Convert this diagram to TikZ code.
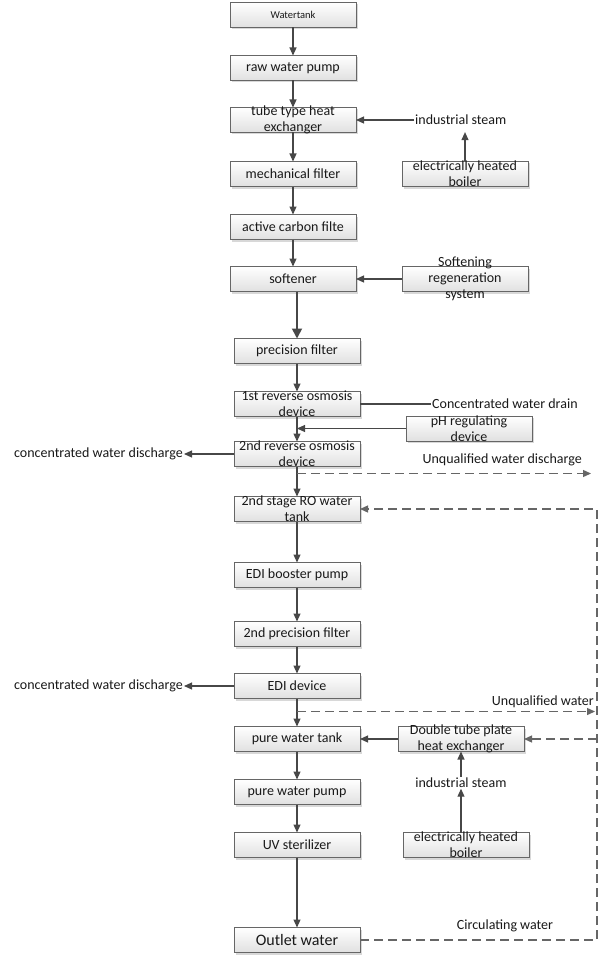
\documentclass[tikz,border=0pt]{standalone}
\usepackage{fontspec}
\setmainfont{Carlito}
\usepackage{tikz}
\usetikzlibrary{positioning,shadows,arrows.meta,calc}
\usepackage{xcolor}

\newcommand{\fsz}[2]{\fontsize{#1}{#2}\selectfont}

\begin{document}
\begin{tikzpicture}[x=1pt,y=1pt,
  node distance=27pt,
  every node/.style={font=\fsz{14}{16},text=black!90,inner sep=1pt,align=center},%
  bx/.style={draw=black!60,line width=0.8pt,top color=white,bottom color=black!12,%
    minimum width=126pt,minimum height=25pt,inner sep=0pt,outer sep=0pt,%
    drop shadow={shadow xshift=2pt,shadow yshift=-2pt,fill=black!30,opacity=.5}},%
  e/.style={-{Triangle[width=7pt,length=8pt]},line width=1.1pt,draw=black!72},%
  ee/.style={e,line width=1.8pt,-{Triangle[width=10pt,length=10pt]}},%
  d/.style={e,line width=1.3pt,dash pattern=on 9pt off 5pt,draw=black!60},%
  ln/.style={line width=1.1pt,draw=black!72},%
  ]
  \useasboundingbox (0,0) rectangle (609,-960);

  % main line
  \node (tank) [bx,font=\fsz{10.5}{12}] at (293,-15) {Watertank};
  \node (raw) [bx,below=of tank,yshift=-1pt] {raw water pump};
  \node (tube) [bx,below=of raw] {};
  \node (tubel) at (tube) {tube type heat\\exchanger};
  \node (mech) [bx,below=of tube,yshift=-2pt] {mechanical filter};
  \node (carbon) [bx,below=of mech,yshift=-1pt] {active carbon filte};
  \node (soft) [bx,below=of carbon] {softener};
  \node (prec) [bx,below=of soft,xshift=4pt,yshift=-20pt] {precision filter};
  \node (ro1) [bx,below=of prec,yshift=-1pt] {};
  \node (ro1l) at (ro1) {1st reverse osmosis\\device};
  \node (ro2) [bx,below=of ro1,yshift=2pt] {};
  \node (ro2l) at (ro2) {2nd reverse osmosis\\device};
  \node (rotank) [bx,below=of ro2,yshift=-3pt] {};
  \node (rotankl) at (rotank) {2nd stage RO water\\tank};
  \node (boost) [bx,below=of rotank,yshift=-14pt] {EDI booster pump};
  \node (prec2) [bx,below=of boost,yshift=-7pt] {2nd precision filter};
  \node (edi) [bx,below=of prec2] {EDI device};
  \node (pure) [bx,below=of edi,yshift=-1pt] {pure water tank};
  \node (pump) [bx,below=of pure,yshift=-1pt] {pure water pump};
  \node (uv) [bx,below=of pump,yshift=-1pt] {UV sterilizer};
  \node (outlet) [bx,below=of uv,yshift=-43pt,font=\fsz{16}{18}] {Outlet water};

  % side parts
  \node (steam1) [right=58pt of tube] {industrial steam};
  \node (boiler1) [bx,right=46pt of mech] {};
  \node (boiler1l) at (boiler1) {electrically heated\\boiler};
  \node (softreg) [bx,right=46pt of soft] {};
  \node (softregl) at (softreg) {Softening\\regeneration\\system};
  \node (drain) [right=71pt of ro1] {Concentrated water drain};
  \node (ph) [bx,right=46pt of ro1,yshift=-24.5pt] {};
  \node (phl) at (ph) {pH regulating\\device};
  \node (dis1) [left=50pt of ro2] {concentrated water discharge};
  \coordinate [below=7pt of ro2] (u1a);
  \coordinate [right=294pt of u1a] (u1b);
  \node (unq1) [above left=6pt and 8pt of u1b] {Unqualified water discharge};
  \node (dis2) [left=50pt of edi] {concentrated water discharge};
  \coordinate [below=13pt of edi] (u2a);
  \coordinate [right=298pt of u2a] (u2b);
  \node (unq2) [above left=3pt and 0pt of u2b] {Unqualified water};
  \node (dbl) [bx,right=38pt of pure] {};
  \node (dbll) at (dbl) {Double tube plate\\heat exchanger};
  \node (steam2) [below=25pt of dbl] {industrial steam};
  \node (boiler2) [bx,right=43pt of uv] {};
  \node (boiler2l) at (boiler2) {electrically heated\\boiler};
  \coordinate (rb) at (597,-940);
  \node (circ) at (505,-926) {Circulating water};

  % flow
  \draw [e] (tank) -- (raw);
  \draw [e] (raw) -- (tube);
  \draw [e] (tube) -- (mech);
  \draw [e] (mech) -- (carbon);
  \draw [e] (carbon) -- (soft);
  \draw [ee] (prec.north |- soft.south) -- (prec);
  \draw [e] (prec) -- (ro1);
  \draw [e] (ro1) -- (ro2);
  \draw [e] (ro2) -- (rotank);
  \draw [e] (rotank) -- (boost);
  \draw [e] (boost) -- (prec2);
  \draw [e] (prec2) -- (edi);
  \draw [e] (edi) -- (pure);
  \draw [e] (pure) -- (pump);
  \draw [e] (pump) -- (uv);
  \draw [e] (uv) -- (outlet);

  \draw [e] (steam1) -- (tube);
  \draw [e,shorten >=6pt] (boiler1.north) -- (boiler1.north |- steam1.south);
  \draw [e] (softreg) -- (soft);
  \draw [ln] (ro1) -- (drain);
  \draw [e] (ph) -- (ph.west -| ro1);
  \draw [e] (ro2) -- (dis1);
  \draw [d] (u1a) -- (u1b);
  \draw [d] (outlet) -- (outlet -| rb) -- (rotank -| rb) -- (rotank);
  \draw [e] (edi) -- (dis2);
  \draw [d] (u2a) -- (u2b);
  \draw [d] (dbl -| rb) -- (dbl);
  \draw [e] (dbl) -- (pure);
  \draw [e] (steam2) -- (dbl);
  \draw [e] (boiler2.north -| steam2) -- (steam2);
\end{tikzpicture}
\end{document}
